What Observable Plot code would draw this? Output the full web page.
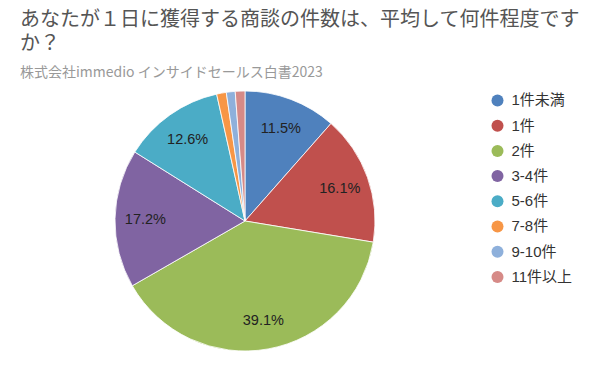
<!DOCTYPE html>
<html><head><meta charset="utf-8">
<script src="https://cdn.jsdelivr.net/npm/d3@7"></script>
<script src="https://cdn.jsdelivr.net/npm/@observablehq/plot@0.6"></script>
<style>
body{margin:0;background:#fff;font-family:"Noto Sans CJK JP","Noto Sans",sans-serif;}
#wrap{position:relative;width:596px;height:367px;}
h1{position:absolute;left:20px;top:6px;margin:0;font-size:20px;font-weight:400;color:#555;line-height:24px;width:570px;}
.sub{position:absolute;left:20px;top:61px;font-size:14px;color:#999;}
#chart{position:absolute;left:0;top:0;}
</style></head><body>
<div id="wrap">
<h1>あなたが１日に獲得する商談の件数は、平均して何件程度ですか？</h1>
<div class="sub">株式会社immedio インサイドセールス白書2023</div>
<div id="chart"></div>
</div>
<script>
const categories = ["1件未満","1件","2件","3-4件","5-6件","7-8件","9-10件","11件以上"];
const values = [11.5,16.1,39.1,17.2,12.6,1.2,1.1,1.2];
const colors = ["#4f81bd","#c0504d","#9bbb59","#8064a2","#4bacc6","#f79646","#8eb0db","#d68a87"];

const data = categories.map((c,i)=>({category:c,value:values[i]}));
const pie = d3.pie().sort(null).value(d=>d.value)(data);
const R = 130;
const arc = d3.arc().innerRadius(0).outerRadius(R);
const labelArc = d3.arc().innerRadius(R*0.77).outerRadius(R*0.77);
const labels = pie.filter(p=>p.data.value>5).map(p=>{const [lx,ly]=labelArc.centroid(p);return {x:lx,y:ly,text:p.data.value.toFixed(1)+"%"};});
const legend = categories.map((c,i)=>({category:c,i}));

const chart = Plot.plot({
  width:596,height:367,
  margin:0,
  x:{domain:[-245,351],range:[0,596],axis:null},
  y:{domain:[-221,146],range:[0,367],axis:null},
  color:{domain:categories,range:colors},
  style:{fontFamily:"'Liberation Sans','Noto Sans CJK JP',sans-serif",background:"transparent"},
  marks:[
    (index,scales)=>{
      const g = d3.create("svg:g").attr("transform",`translate(${scales.x(0)},${scales.y(0)})`);
      g.selectAll("path").data(pie).join("path")
        .attr("d",arc).attr("fill",d=>scales.color(d.data.category))
        .attr("stroke","#fff").attr("stroke-width",0.8).attr("stroke-linejoin","round");
      return g.node();
    },
    Plot.text(labels,{x:"x",y:"y",text:"text",fontSize:14.5,fill:"#222"}),
    Plot.dot(legend,{x:()=>252,y:d=>-121+d.i*25.2,r:6,fill:"category",stroke:null}),
    Plot.text(legend,{x:()=>266,y:d=>-121+d.i*25.2,text:"category",textAnchor:"start",fontSize:15,fill:"#333"})
  ]
});
document.getElementById("chart").appendChild(chart);
</script>
</body></html>
